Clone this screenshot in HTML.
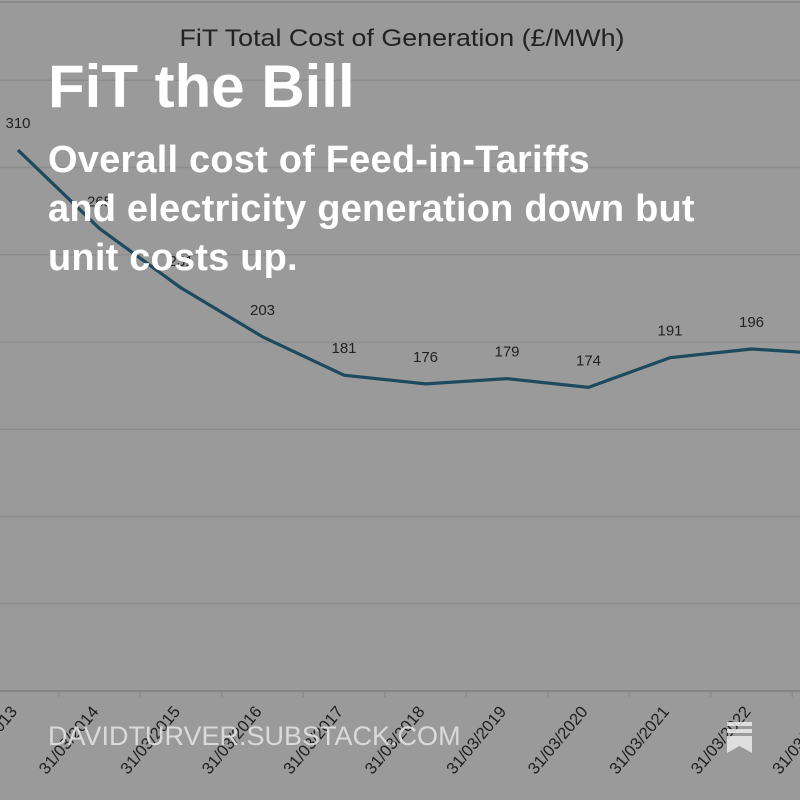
<!DOCTYPE html>
<html><head><meta charset="utf-8"><style>
html,body{margin:0;padding:0;background:#9a9a9a;width:800px;height:800px;overflow:hidden}
svg{position:absolute;left:0;top:0}
.ov{position:absolute;color:#fff;font-family:"Liberation Sans",sans-serif;white-space:nowrap}
</style></head><body>
<svg id="chart" width="800" height="800">
<text x="402" y="46" text-anchor="middle" textLength="445" lengthAdjust="spacingAndGlyphs" font-family="Liberation Sans, sans-serif" font-size="24" fill="#222">FiT Total Cost of Generation (£/MWh)</text>
<line x1="0" y1="2" x2="800" y2="2" stroke="#8a8a8a" stroke-width="2"/>
<g id="grid"></g><g id="xax"></g><g id="series"></g>
</svg>
<div class="ov" style="left:48px;top:52px;font-size:60px;font-weight:bold;">FiT the Bill</div>
<div class="ov" style="left:48px;top:136px;font-size:38px;font-weight:bold;line-height:49px;letter-spacing:0.2px">Overall cost of Feed-in-Tariffs<br>and electricity generation down but<br>unit costs up.</div>
<div class="ov" style="left:48px;top:721px;font-size:27px;color:rgba(225,225,225,0.9)">DAVIDTURVER.SUBSTACK.COM</div>
<svg width="800" height="800" style="pointer-events:none"><g fill="rgba(235,235,235,0.85)"><rect x="727" y="722" width="25" height="4"/><rect x="727" y="729" width="25" height="4"/><path d="M727 736h25v17l-12.5-7-12.5 7z"/></g></svg>
<script>
const categories=["31/03/2013","31/03/2014","31/03/2015","31/03/2016","31/03/2017","31/03/2018","31/03/2019","31/03/2020","31/03/2021","31/03/2022","31/03/2023"];
const values=[310,265,231,203,181,176,179,174,191,196,193];
const gridTicks=[0,50,100,150,200,250,300,350];
const NS="http://www.w3.org/2000/svg";
const X=i=>18+81.5*i, Y=v=>691-v*1.745;
function mk(t,a,p){const e=document.createElementNS(NS,t);for(const k in a)e.setAttribute(k,a[k]);p.appendChild(e);return e;}
const grid=document.getElementById('grid'),xax=document.getElementById('xax'),ser=document.getElementById('series');
gridTicks.forEach(v=>{const l=mk('line',{x1:0,x2:800,y1:Y(v),y2:Y(v),stroke:v===0?'#858585':'#8c8c8c','stroke-width':v===0?2:1.5},grid);

});
categories.forEach((c,i)=>{const tx=X(i)+40.75;mk('line',{x1:tx,x2:tx,y1:691,y2:697,stroke:'#858585'},xax);
const t=mk('text',{x:0,y:0,transform:`translate(${X(i)},${712}) rotate(-50)`,'text-anchor':'end','font-family':'Liberation Sans, sans-serif','font-size':16.5,fill:'#1e1e1e'},xax);
t.textContent=c;

});
const p=mk('polyline',{points:values.map((v,i)=>X(i)+','+Y(v)).join(' '),fill:'none',stroke:'#1d4a5e','stroke-width':3.2,'stroke-linejoin':'round'},ser);


values.forEach((v,i)=>{const t=mk('text',{x:X(i),y:Y(v)-22,'text-anchor':'middle','font-family':'Liberation Sans, sans-serif','font-size':15,fill:'#222'},ser);
t.textContent=v;

});
</script>
</body></html>
